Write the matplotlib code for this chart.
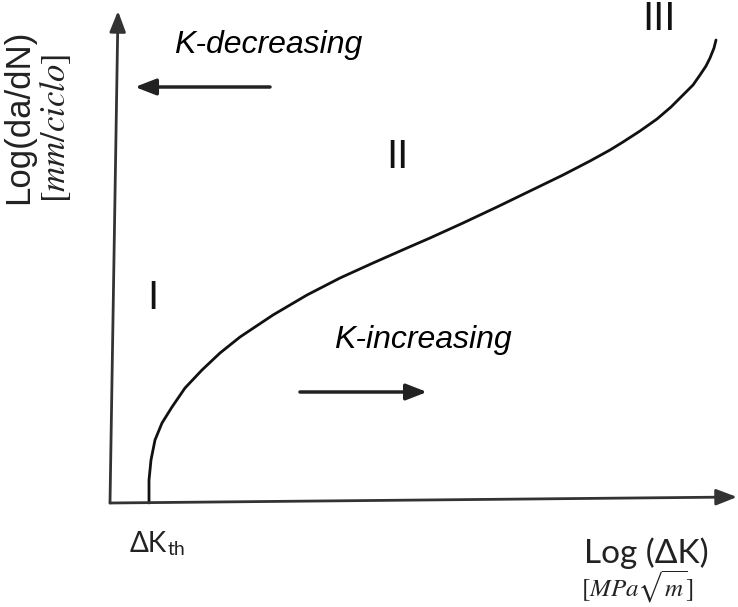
import matplotlib.pyplot as plt

# crack growth curve, schematic units (origin = axes corner)
log_dk = [39, 39, 41, 45, 52, 62, 75, 92, 110, 130, 163, 197, 230, 263, 297,
          320, 353, 387, 420, 453, 480, 500, 513, 530, 547, 561, 573, 583,
          590, 596, 600, 604, 606]
log_dadn = [0, 23, 43, 63, 80, 96, 115, 133, 150, 166, 188, 208, 225, 240, 255,
            265, 280, 296, 312, 328, 342, 353, 361, 372, 384, 396, 408, 418,
            428, 437, 445, 455, 463]

regions = ["I", "II", "III"]
region_pos = [(43, 205), (287, 346), (549, 484)]

W, H = 738, 607
OX, OY = 110, 503  # pixel position of the axes corner

fig = plt.figure(figsize=(W / 100, H / 100), dpi=100)
ax = fig.add_axes([0, 0, 1, 1])
ax.set_xlim(-OX, W - OX)
ax.set_ylim(OY - H, OY)
ax.axis("off")

axis_col = "#333333"
head = "-|>,head_length=0.9,head_width=0.35"
arrow = dict(arrowstyle=head, color=axis_col, lw=2, shrinkA=0, shrinkB=0,
             mutation_scale=14)
# y and x axis arrows
ax.annotate("", xy=(8, 492), xytext=(0, 0), arrowprops=arrow)
ax.annotate("", xy=(627, 6), xytext=(0, 0), arrowprops=arrow)

ax.plot(log_dk, log_dadn, color="#111111", lw=2, solid_joinstyle="round",
        solid_capstyle="round")

sans = "Liberation Sans"
for lab, (x, y) in zip(regions, region_pos):
    ax.text(x, y, lab, fontsize=29, family=sans, ha="center", va="center",
            color="#111111")

# direction labels
dir_arrow = dict(arrowstyle=head, color="#222222", lw=2.5, shrinkA=0,
                 shrinkB=0, mutation_scale=14)
ax.text(158, 458, "K-decreasing", fontsize=23, family=sans, style="italic",
        ha="center", va="center")
ax.annotate("", xy=(25, 416), xytext=(160, 416), arrowprops=dir_arrow)
ax.text(313, 163, "K-increasing", fontsize=23, family=sans, style="italic",
        ha="center", va="center")
ax.annotate("", xy=(317, 111), xytext=(190, 111), arrowprops=dir_arrow)

ax.text(-91, 386, "Log(da/dN)", fontsize=25, family=sans, rotation=90,
        ha="center", va="center", color="#222222")
ax.text(-55, 375, r"$[mm/ciclo]$", fontsize=25, rotation=90,
        math_fontfamily="stix", ha="center", va="center", color="#222222")

dk = ax.text(20, -49, "ΔK", fontsize=20, family="Lato", ha="left",
             va="baseline", color="#222222")
ax.annotate("th", xy=(1, 0), xycoords=dk, xytext=(0, -1),
            textcoords="offset points", fontsize=14, family="Lato",
            ha="left", va="bottom", color="#222222")
ax.text(536, -50, "Log (ΔK)", fontsize=24, family="Lato",
        ha="center", va="center", color="#222222")
ax.text(527, -84, r"$[MPa\sqrt{m}]$", fontsize=18, math_fontfamily="stix",
        ha="center", va="center", color="#222222")

fig.savefig("out.png", dpi=100)
